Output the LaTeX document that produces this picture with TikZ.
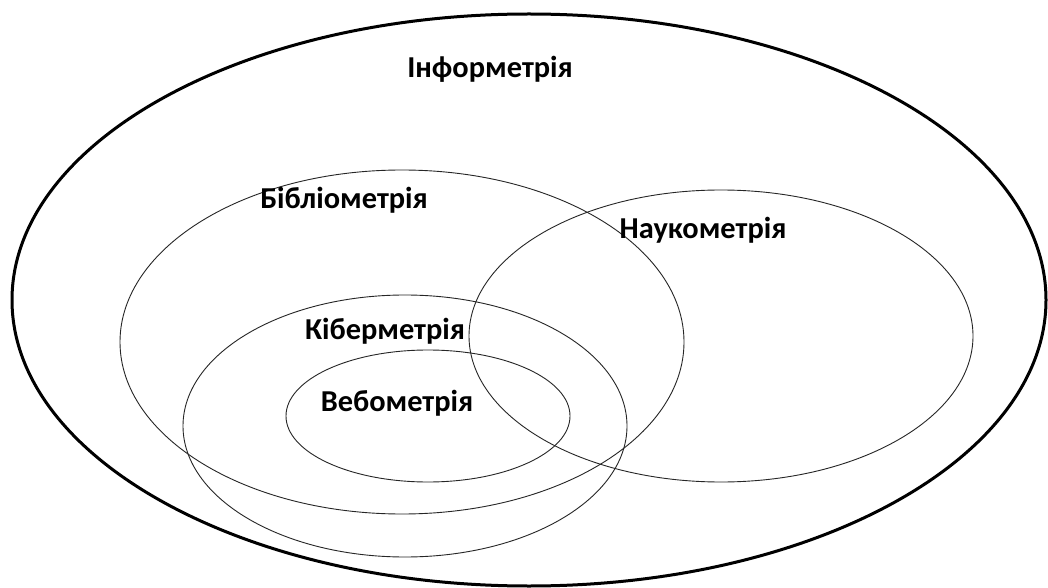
\documentclass[tikz,border=0pt]{standalone}
\usepackage{fontspec}
\setmainfont{Carlito}
\begin{document}
\begin{tikzpicture}[x=1bp,y=-1bp,
  lbl/.style={font=\bfseries\fontsize{30.5}{36}\selectfont, anchor=base, inner sep=0pt},
  ring/.style={line width=0.9bp, draw=black!85}]
\useasboundingbox (0,0) rectangle (1048,588);
\fill[white] (0,0) rectangle (1048,588);
% outer set
\draw[line width=3bp] (529,300) ellipse [x radius=517, y radius=286];
% inner sets
\draw[ring] (402,342) ellipse [x radius=282, y radius=172];
\draw[ring] (721,336) ellipse [x radius=252, y radius=146];
\draw[ring] (405,426) ellipse [x radius=222, y radius=131];
\draw[ring] (428,416) ellipse [x radius=142, y radius=66];

 \node[lbl] (inf) at (490,78) {Інформетрія};
 \node[lbl] (bib) at (344,209) {Бібліометрія};
  \node[lbl] (nauk) at (703,239) {Наукометрія};
 \node[lbl] (kib) at (385,339) {Кіберметрія};
   \node[lbl] (veb) at (397,411) {Вебометрія};
\end{tikzpicture}
\end{document}
